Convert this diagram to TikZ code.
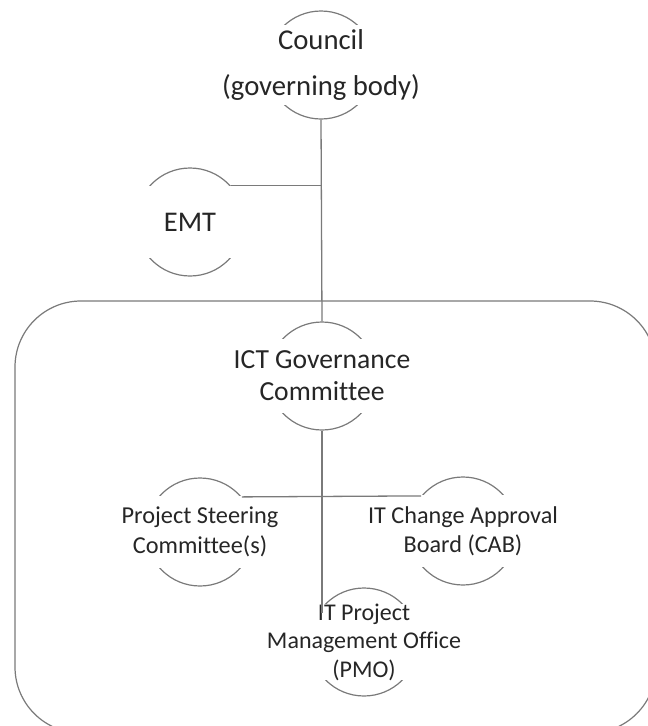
\documentclass[tikz,border=0pt]{standalone}
\usepackage{fontspec}
\setmainfont[Ligatures={NoCommon}]{Carlito}
\usepackage{tikz}
\usepackage{xcolor}
\usetikzlibrary{calc}
\usetikzlibrary{positioning}

\definecolor{linegray}{HTML}{7A7A7A}
\definecolor{textgray}{HTML}{262626}

\tikzset{
  bubble/.style={draw=linegray, line width=1.2pt, circle, minimum size=108pt, inner sep=0pt},
  caption/.style={fill=white, text=textgray, align=center, inner sep=0pt, minimum width=125pt, minimum height=74pt},
  link/.style={draw=linegray, line width=1.3pt}
}

\begin{document}
\begin{tikzpicture}[x=1pt, y=-1pt]
\clip (0,0) rectangle (648,726);
\useasboundingbox (0,0) rectangle (648,726);
% Committee frame
\draw[linegray, line width=1.2pt, rounded corners=66pt] (15,301) rectangle (656,733);
% Circles (nodes)
\node[bubble] (council) at (321,65) {};
\node[bubble] (emt) at (190,222) {};
\node[bubble] (ict) at (322,376) {};
\node[bubble] (psc) at (200,532) {};
\node[bubble] (cab) at (463,531) {};
\node[bubble] (pmo) at (364,642) {};
% Texts (nodes)
\node[caption, minimum height=80pt, font=\fontsize{28.7}{46}\selectfont] (councilTxt) at (council) {Council\\(governing body)};
\node[caption, minimum height=72pt, font=\fontsize{28.5}{34}\selectfont] (emtTxt) at (emt) {EMT};
\node[caption, minimum height=74pt, font=\fontsize{27.6}{32}\selectfont] (ictTxt) at (ict) {ICT Governance\\Committee};
\node[caption, minimum height=72pt, font=\fontsize{24.3}{30}\selectfont] (pscTxt) at (psc) {Project Steering\\Committee(s)};
\node[caption, minimum height=72pt, font=\fontsize{24.2}{29}\selectfont] (cabTxt) at (cab) {IT Change Approval\\Board (CAB)};
\node[caption, minimum height=72pt, font=\fontsize{24}{28.5}\selectfont] (pmoTxt) at (pmo) {IT Project\\Management Office\\(PMO)};
% End of the line at the PMO text
\coordinate (pmoTop) at (ict.south |- 0,613);
% Connectors
\draw[link] (council.south) -- (ict.north);
\draw[link] (emt.42) -- (council.south |- emt.42);
\draw[link] (ict.south) -- (pmoTop);
\draw[link] (psc.40) -- (cab.140);
\end{tikzpicture}
\end{document}
